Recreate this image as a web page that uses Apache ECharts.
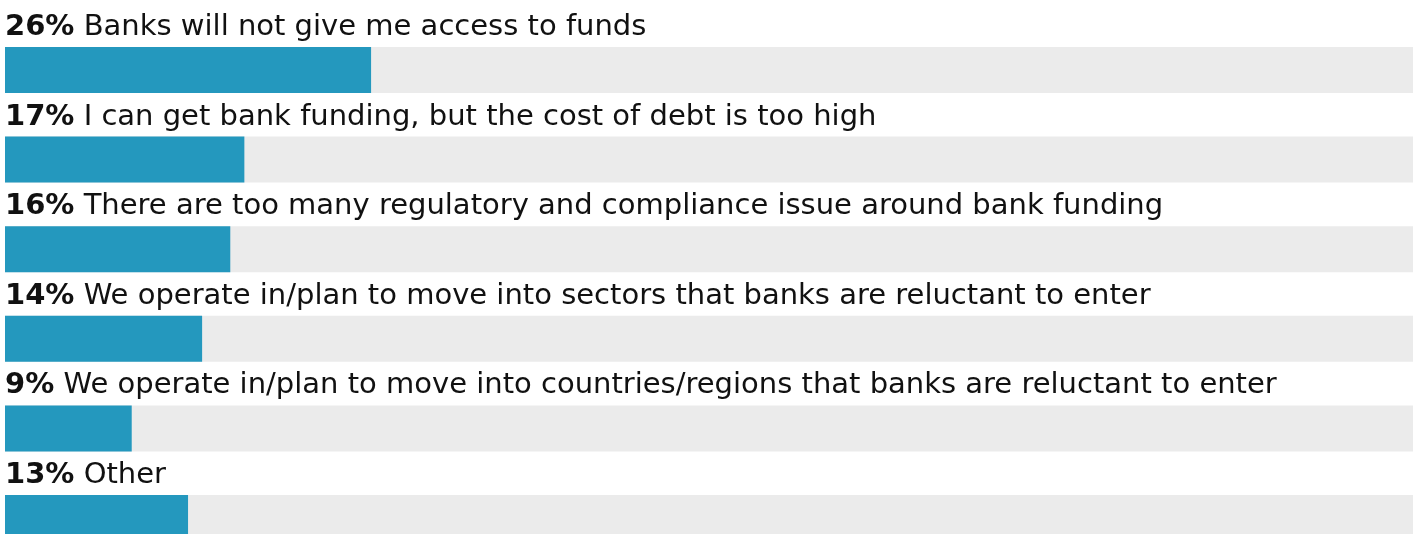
<!DOCTYPE html>
<html>
<head>
<meta charset="utf-8">
<script src="https://cdn.jsdelivr.net/npm/echarts@6/dist/echarts.min.js"></script>
<style>
html,body{margin:0;padding:0;background:#fff;}
#chart{width:1419px;height:534px;}
</style>
</head>
<body>
<div id="chart"></div>
<script>
const categories = [
  "Banks will not give me access to funds",
  "I can get bank funding, but the cost of debt is too high",
  "There are too many regulatory and compliance issue around bank funding",
  "We operate in/plan to move into sectors that banks are reluctant to enter",
  "We operate in/plan to move into countries/regions that banks are reluctant to enter",
  "Other"
];
const values = [26, 17, 16, 14, 9, 13];

const FONT = 'DejaVu Sans';
const FS = 29;
const chart = echarts.init(document.getElementById('chart'));
chart.setOption({
  animation: false,
  grid: { left: 5, right: 6, top: 25.2, height: 537.6, containLabel: false, outerBoundsMode: 'none' },
  xAxis: { type: 'value', min: 0, max: 100, show: false },
  yAxis: { type: 'category', data: categories, inverse: true, show: false },
  series: [{
    type: 'bar',
    data: values,
    barWidth: 46,
    itemStyle: { color: '#2498be' },
    showBackground: true,
    backgroundStyle: { color: '#ebebeb' },
    label: {
      show: true,
      position: [0, -5],
      align: 'left',
      verticalAlign: 'bottom',
      fontFamily: FONT,
      fontSize: FS,
      color: '#111111',
      formatter: p => '{b|' + p.value + '%} {n|' + p.name + '}',
      rich: {
        b: { fontWeight: 'bold', fontSize: FS, fontFamily: FONT, color: '#111111' },
        n: { fontSize: FS, fontFamily: FONT, color: '#111111' }
      }
    }
  }]
});
</script>
</body>
</html>
